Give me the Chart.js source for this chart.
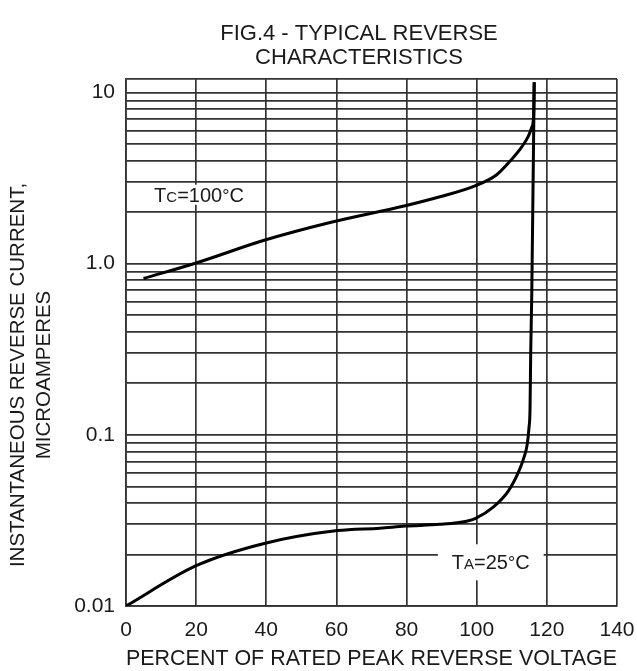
<!DOCTYPE html>
<html>
<head>
<meta charset="utf-8">
<script src="https://cdn.jsdelivr.net/npm/chart.js@4.4.0/dist/chart.umd.min.js"></script>
<style>
  html, body { margin: 0; padding: 0; background: #fff; }
</style>
</head>
<body>
<canvas id="reverseChart" width="637" height="671"></canvas>
<script>
// x = % of rated peak reverse voltage, y = current (uA)
const tcX = [5, 20, 39.4, 58.2, 79.6, 89.5, 99.5, 105.7, 110, 112.8, 114.7, 115.7, 116.2, 116.4];
const tcY = [0.82, 1.01, 1.37, 1.74, 2.18, 2.46, 2.85, 3.31, 4.08, 4.8, 5.54, 6.27, 7.27, 11.5];
const taX = [0, 20, 39.4, 60.3, 72.4, 79.6, 89.5, 97.1, 99.7, 104.7, 109, 111.9, 113.5, 114.4, 114.9, 115.2, 115.4, 115.7, 116.4];
const taY = [0.01, 0.0172, 0.0232, 0.0276, 0.0285, 0.0293, 0.030, 0.0313, 0.0325, 0.0378, 0.0469, 0.0605, 0.0741, 0.088, 0.110, 0.141, 0.306, 0.67, 11.5];

const titleLines = ["FIG.4 - TYPICAL REVERSE", "CHARACTERISTICS"];
const xTitle = "PERCENT OF RATED PEAK REVERSE VOLTAGE";
const yTitle = ["INSTANTANEOUS REVERSE CURRENT,", "MICROAMPERES"];

const xMin = 0, xMax = 140, xStep = 20;
const yMin = 0.01, yMax = 12;
const decades = [0.01, 0.1, 1];
const yLabelValues = [0.01, 0.1, 1, 10];
const yLabelText = ["0.01", "0.1", "1.0", "10"];

// curve labels: [text, font size, raise], anchor in data units
const tcLabel = { x: 20.8, y: 2.53, parts: [["T", 20, 0], ["C", 15, 0], ["=100", 20, 0], ["°", 18, 0], ["C", 20, 0]], padX: 10, padY: 2 };
const taLabel = { x: 104, y: 0.018, parts: [["T", 20, 0], ["A", 15, 0], ["=25", 20, 0], ["°", 18, 0], ["C", 20, 0]], padX: 14, padY: 10 };

const FONT = '"Liberation Sans", Arial, sans-serif';
const INK = "#1a1a1a";
const GRID = "#333";

// gridline values on the log axis: 1..9 of each decade, then 10 and the top edge
let yTicks = [];
decades.forEach((d) => {
  for (let i = 1; i <= 9; i++) yTicks.push(+(d * i).toPrecision(3));
});
yTicks.push(10, yMax);

function toPoints(xs, ys) {
  return xs.map((x, i) => ({ x: x, y: ys[i] }));
}

function drawLabel(ctx, chart, lab) {
  let cx = chart.scales.x.getPixelForValue(lab.x);
  let cy = chart.scales.y.getPixelForValue(lab.y);
  let w = 0;
  lab.parts.forEach((p) => {
    ctx.font = p[1] + "px " + FONT;
    w += ctx.measureText(p[0]).width;
  });
  ctx.fillStyle = "#fff";
  ctx.fillRect(cx - w / 2 - lab.padX, cy - 8 - lab.padY, w + lab.padX * 2, 16 + lab.padY * 2);
  ctx.fillStyle = INK;
  ctx.textAlign = "left";
  ctx.textBaseline = "alphabetic";
  let x = cx - w / 2;
  lab.parts.forEach((p) => {
    ctx.font = p[1] + "px " + FONT;
    ctx.fillText(p[0], x, cy + 7 + p[2]);
    x += ctx.measureText(p[0]).width;
  });
}

const labelsPlugin = {
  id: "labelsPlugin",
  beforeDatasetsDraw(chart) {
    const ctx = chart.ctx;
    ctx.save();
    drawLabel(ctx, chart, tcLabel);
    drawLabel(ctx, chart, taLabel);
    ctx.restore();
  },
  afterDraw(chart) {
    const ctx = chart.ctx;
    ctx.save();
    ctx.fillStyle = INK;
    ctx.font = "22px " + FONT;
    ctx.textAlign = "center";
    ctx.textBaseline = "middle";
    ctx.fillText(titleLines[0], 359, 34);
    ctx.fillText(titleLines[1], 359, 58);

    // y axis title sits a bit below the middle of the plot in the original
    ctx.font = "20.5px " + FONT;
    ctx.translate(18, 375);
    ctx.rotate(-Math.PI / 2);
    ctx.fillText(yTitle[0], 0, 0);
    ctx.fillText(yTitle[1], 0, 26);
    ctx.restore();
  },
};

const lineStyle = {
  borderColor: "#000",
  borderWidth: 3,
  pointRadius: 0,
  fill: false,
  cubicInterpolationMode: "monotone",
};

new Chart(document.getElementById("reverseChart"), {
  type: "line",
  data: {
    datasets: [
      Object.assign({ label: "Tc=100C", data: toPoints(tcX, tcY) }, lineStyle),
      Object.assign({ label: "Ta=25C", data: toPoints(taX, taY) }, lineStyle),
    ],
  },
  options: {
    responsive: false,
    animation: false,
    layout: { padding: { top: 79, right: 20, left: 0, bottom: 0 } },
    plugins: {
      legend: { display: false },
      tooltip: { enabled: false },
    },
    scales: {
      x: {
        type: "linear",
        min: xMin,
        max: xMax,
        ticks: { stepSize: xStep, color: INK, font: { size: 21, family: FONT }, padding: 12, maxRotation: 0 },
        grid: { color: GRID, lineWidth: 1.7, drawTicks: false },
        border: { color: GRID, width: 1.7 },
        title: { display: true, text: xTitle, color: INK, font: { size: 22.5, family: FONT, lineHeight: 1.1 }, padding: { top: 0, bottom: 0 } },
        afterFit: (s) => {
          s.height = 65;
          s.paddingLeft = 0;
          s.paddingRight = 0;
        },
      },
      y: {
        type: "logarithmic",
        min: yMin,
        max: yMax,
        afterBuildTicks: (s) => {
          s.ticks = yTicks.map((v) => ({ value: v }));
        },
        ticks: {
          autoSkip: false,
          color: INK,
          font: { size: 21, family: FONT },
          padding: 11,
          callback: (v) => {
            let i = yLabelValues.findIndex((l) => Math.abs(l - v) < l * 1e-6);
            return i >= 0 ? yLabelText[i] : "";
          },
        },
        grid: { color: GRID, lineWidth: 1.7, drawTicks: false },
        border: { color: GRID, width: 1.7 },
        title: { display: false },
        afterFit: (s) => {
          s.width = 126;
          s.paddingTop = 0;
          s.paddingBottom = 0;
        },
      },
    },
  },
  plugins: [labelsPlugin],
});
</script>
</body>
</html>
